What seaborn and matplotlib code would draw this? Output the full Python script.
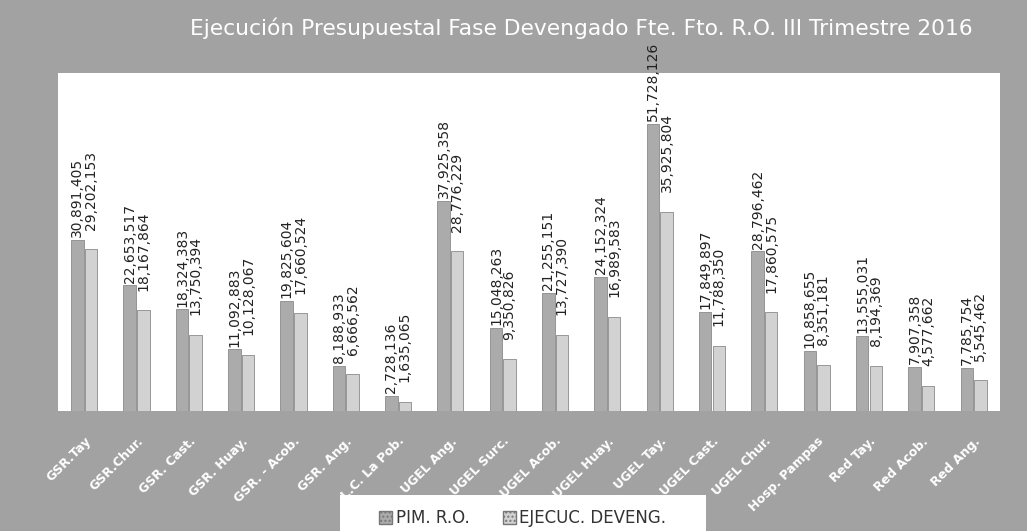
import matplotlib

matplotlib.use("Agg")
import matplotlib.pyplot as plt
import pandas as pd
import seaborn as sns
from matplotlib.patches import Rectangle

DPI = 100

CATEGORIES = [
    "GSR.Tay", "GSR.Chur.", "GSR. Cast.", "GSR. Huay.", "GSR. - Acob.",
    "GSR. Ang.", "L.C. La Pob.", "UGEL Ang.", "UGEL Surc.", "UGEL Acob.",
    "UGEL Huay.", "UGEL Tay.", "UGEL Cast.", "UGEL Chur.", "Hosp. Pampas",
    "Red Tay.", "Red Acob.", "Red Ang.",
]
PIM_RO = [
    30891405, 22653517, 18324383, 11092883, 19825604, 8188933, 2728136,
    37925358, 15048263, 21255151, 24152324, 51728126, 17849897, 28796462,
    10858655, 13555031, 7907358, 7785754,
]
EJEC_DEVENG = [
    29202153, 18167864, 13750394, 10128067, 17660524, 6666562, 1635065,
    28776229, 9350826, 13727390, 16989583, 35925804, 11788350, 17860575,
    8351181, 8194369, 4577662, 5545462,
]
SERIES = ["PIM. R.O.", "EJECUC. DEVENG."]
TITLE = "Ejecución Presupuestal Fase Devengado Fte. Fto. R.O. III Trimestre 2016"

BG = "#a2a2a2"
COLORS = ["#ababab", "#d2d2d2"]

df = pd.DataFrame({
    "categoria": CATEGORIES * 2,
    "serie": [SERIES[0]] * len(CATEGORIES) + [SERIES[1]] * len(CATEGORIES),
    "valor": PIM_RO + EJEC_DEVENG,
})

sns.set_theme(style="white")
plt.rcParams["font.family"] = ["DejaVu Sans"]

fig = plt.figure(figsize=(10.27, 5.31), dpi=DPI, facecolor=BG)
ax = fig.add_axes([0.0565, 0.226, 0.917, 0.637])
ax.set_facecolor("white")

sns.barplot(
    data=df, x="categoria", y="valor", hue="serie",
    palette=COLORS, width=0.52, gap=0.08, ax=ax, legend=False,
    edgecolor="#8a8a8a", linewidth=0.6,
)

pads = [2, 14]
for container, pad in zip(ax.containers, pads):
    ax.bar_label(
        container,
        labels=[f"{v:,.0f}" for v in container.datavalues],
        rotation=90, padding=pad, fontsize=10, color="#222222",
    )

ax.set_ylim(0, 61_000_000)
ax.set_xlim(-0.5, len(CATEGORIES) - 0.5)
ax.set_yticks([])
ax.set_xlabel("")
ax.set_ylabel("")
for spine in ax.spines.values():
    spine.set_visible(False)
ax.tick_params(axis="x", length=0, pad=17)
plt.setp(
    ax.get_xticklabels(), rotation=45, ha="right", rotation_mode="anchor",
    color="white", fontsize=9, fontweight="bold",
)

fig.text(0.566, 0.947, TITLE, ha="center", va="center", color="white",
         fontsize=15.7)

fig.patches.append(Rectangle((0.331, 0.0), 0.356, 0.068, transform=fig.transFigure,
                             facecolor="white", edgecolor="none", zorder=-1))
handles = [Rectangle((0, 0), 1, 1, facecolor=c, edgecolor="#777777", hatch="....")
           for c in COLORS]
fig.legend(
    handles, SERIES, loc="center", bbox_to_anchor=(0.509, 0.0245), ncol=2,
    frameon=False, fontsize=12, handlelength=0.8, handleheight=0.8,
    handletextpad=0.2, columnspacing=2.0, labelcolor="#333333",
)

fig.savefig("out.png", dpi=DPI, facecolor=BG)
plt.close(fig)
